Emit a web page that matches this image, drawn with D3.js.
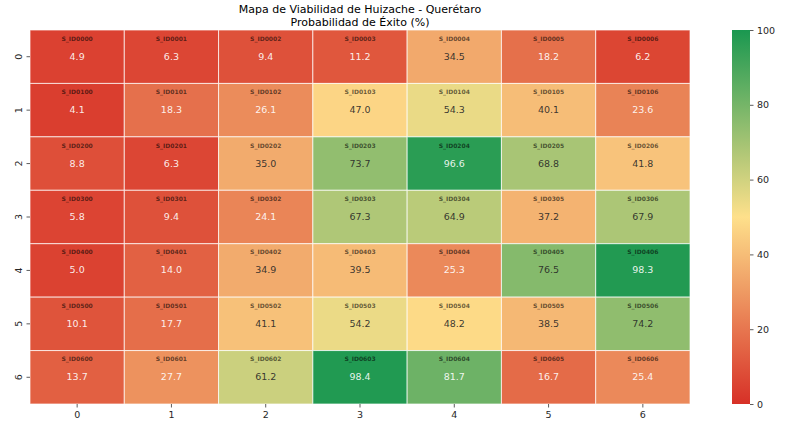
<!DOCTYPE html>
<html>
<head>
<meta charset="utf-8">
<script src="https://cdn.jsdelivr.net/npm/d3@7"></script>
<style>
  body { margin: 0; background: #fff; }
  text { font-family: "DejaVu Sans", sans-serif; }
</style>
</head>
<body>
<svg id="chart" width="806" height="422"></svg>
<script>
// grid indices
const rows = [0, 1, 2, 3, 4, 5, 6];
const cols = [0, 1, 2, 3, 4, 5, 6];

// probabilidad de exito per cell, row by row
const row0 = [4.9, 6.3, 9.4, 11.2, 34.5, 18.2, 6.2];
const row1 = [4.1, 18.3, 26.1, 47.0, 54.3, 40.1, 23.6];
const row2 = [8.8, 6.3, 35.0, 73.7, 96.6, 68.8, 41.8];
const row3 = [5.8, 9.4, 24.1, 67.3, 64.9, 37.2, 67.9];
const row4 = [5.0, 14.0, 34.9, 39.5, 25.3, 76.5, 98.3];
const row5 = [10.1, 17.7, 41.1, 54.2, 48.2, 38.5, 74.2];
const row6 = [13.7, 27.7, 61.2, 98.4, 81.7, 16.7, 25.4];
const values = [row0, row1, row2, row3, row4, row5, row6];

const cbTicks = [0, 20, 40, 60, 80, 100];

const svg = d3.select('#chart');
const m = { left: 30, top: 30, right: 690, bottom: 404 };

const x = d3.scaleBand().domain(cols).range([m.left, m.right]);
const y = d3.scaleBand().domain(rows).range([m.top, m.bottom]);

const color = d3.scaleLinear()
  .domain([0, 50, 100])
  .range(['#d73027', '#fee08b', '#1a9850'])
  .interpolate(d3.interpolateRgb);

// seaborn-style annotation colour from luminance
function textColor(c) {
  const rgb = d3.rgb(c);
  const lin = v => { v /= 255; return v <= 0.03928 ? v / 12.92 : Math.pow((v + 0.055) / 1.055, 2.4); };
  const lum = 0.2126 * lin(rgb.r) + 0.7152 * lin(rgb.g) + 0.0722 * lin(rgb.b);
  return lum > 0.408 ? '#262626' : '#ffffff';
}

const cells = [];
rows.forEach(r => cols.forEach(c => cells.push({ r, c, v: values[r][c] })));

const g = svg.append('g');
g.selectAll('rect.cell')
  .data(cells)
  .enter()
  .append('rect')
  .attr('class', 'cell')
  .attr('x', d => x(d.c))
  .attr('y', d => y(d.r))
  .attr('width', x.bandwidth())
  .attr('height', y.bandwidth())
  .attr('fill', d => color(d.v))
  .attr('stroke', 'rgba(255,255,255,0.7)')
  .attr('stroke-width', 1);

g.selectAll('text.sid')
  .data(cells)
  .enter()
  .append('text')
  .attr('class', 'sid')
  .attr('x', d => x(d.c) + x.bandwidth() / 2)
  .attr('y', d => y(d.r) + y.bandwidth() / 2 - 16)
  .attr('text-anchor', 'middle')
  .attr('font-size', 6)
  .attr('font-weight', 'bold')
  .attr('fill', '#000')
  .attr('fill-opacity', 0.6)
  .text(d => 'S_ID0' + d.r + '0' + d.c);

g.selectAll('text.val')
  .data(cells)
  .enter()
  .append('text')
  .attr('class', 'val')
  .attr('x', d => x(d.c) + x.bandwidth() / 2)
  .attr('y', d => y(d.r) + y.bandwidth() / 2 + 3)
  .attr('text-anchor', 'middle')
  .attr('font-size', 9.5)
  .attr('fill', d => textColor(color(d.v)))
  .attr('fill-opacity', 0.9)
  .text(d => d.v.toFixed(1));

// axes
const xAxis = svg.append('g')
  .attr('transform', `translate(0,${m.bottom})`)
  .call(d3.axisBottom(x).tickSize(3.5).tickPadding(3.5));
const yAxis = svg.append('g')
  .attr('transform', `translate(${m.left},0)`)
  .call(d3.axisLeft(y).tickSize(3.5).tickPadding(3.5));

[xAxis, yAxis].forEach(a => {
  a.select('.domain').remove();
  a.selectAll('line').attr('stroke', '#333').attr('stroke-width', 0.8);
  a.selectAll('text').attr('font-size', 9.5).attr('fill', '#262626')
    .attr('font-family', '"DejaVu Sans", sans-serif');
});
yAxis.selectAll('.tick text')
  .attr('text-anchor', 'middle')
  .attr('dy', null)
  .attr('x', null)
  .attr('transform', 'translate(-10.5,0) rotate(-90)')
  .attr('dominant-baseline', 'middle');

// title
svg.append('text')
  .attr('x', (m.left + m.right) / 2)
  .attr('y', 13)
  .attr('text-anchor', 'middle')
  .attr('font-size', 11)
  .attr('fill', '#000')
  .text('Mapa de Viabilidad de Huizache - Querétaro');
svg.append('text')
  .attr('x', (m.left + m.right) / 2)
  .attr('y', 26)
  .attr('text-anchor', 'middle')
  .attr('font-size', 11)
  .attr('fill', '#000')
  .text('Probabilidad de Éxito (%)');

// colorbar
const cb = { x: 732, w: 18 };
const cbScale = d3.scaleLinear().domain([0, 100]).range([m.bottom, m.top]);
const defs = svg.append('defs');
const grad = defs.append('linearGradient')
  .attr('id', 'cbgrad')
  .attr('x1', 0).attr('y1', 1).attr('x2', 0).attr('y2', 0);
d3.range(0, 101, 5).forEach(t => {
  grad.append('stop').attr('offset', t / 100).attr('stop-color', color(t));
});
svg.append('rect')
  .attr('x', cb.x)
  .attr('y', m.top)
  .attr('width', cb.w)
  .attr('height', m.bottom - m.top)
  .attr('fill', 'url(#cbgrad)');
const cbAxis = svg.append('g')
  .attr('transform', `translate(${cb.x + cb.w},0)`)
  .call(d3.axisRight(cbScale).tickValues(cbTicks).tickSize(3.5).tickPadding(3.5));
cbAxis.select('.domain').remove();
cbAxis.selectAll('line').attr('stroke', '#333').attr('stroke-width', 0.8);
cbAxis.selectAll('text').attr('font-size', 9.5).attr('fill', '#262626')
  .attr('font-family', '"DejaVu Sans", sans-serif');
</script>
</body>
</html>
